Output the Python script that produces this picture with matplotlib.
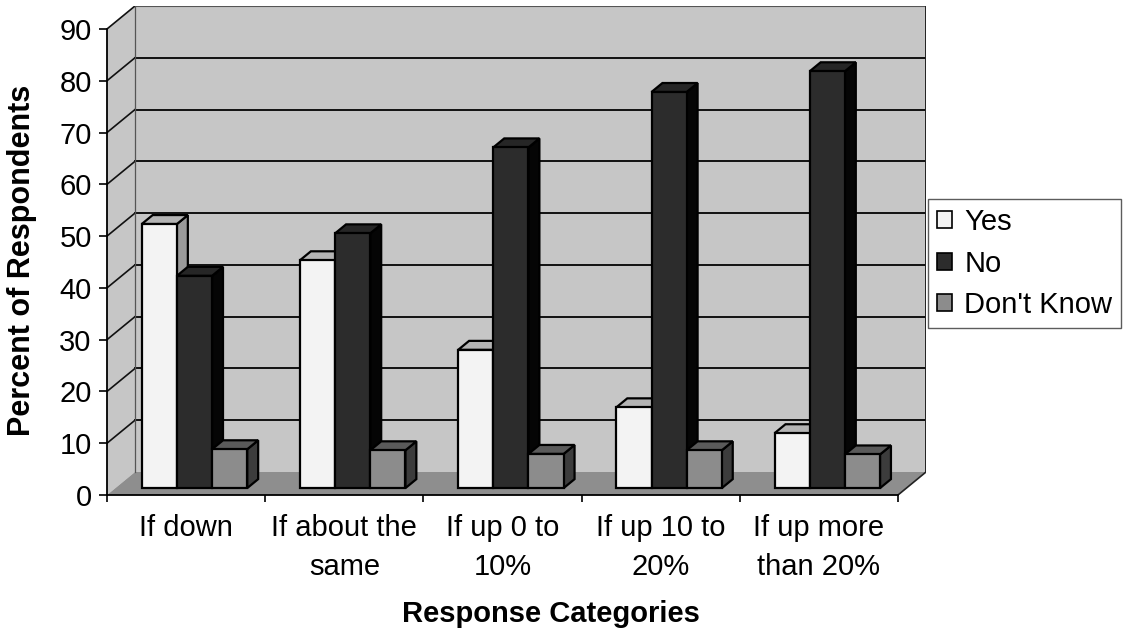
import matplotlib
matplotlib.use("Agg")
import matplotlib.pyplot as plt
from matplotlib.patches import Polygon, Patch

plt.rcParams['font.family'] = ['Liberation Sans', 'DejaVu Sans']

# ---- data -------------------------------------------------------------
categories = ["If down", "If about the\nsame", "If up 0 to\n10%",
              "If up 10 to\n20%", "If up more\nthan 20%"]
series_names = ["Yes", "No", "Don't Know"]
yes_vals = [51, 44, 26.7, 15.6, 10.6]
no_vals = [41, 49.2, 65.8, 76.5, 80.5]
dk_vals = [7.5, 7.3, 6.6, 7.3, 6.5]
y_ticks = [0, 10, 20, 30, 40, 50, 60, 70, 80, 90]

# ---- styling ----------------------------------------------------------
face_cols = ["#f3f3f3", "#2c2c2c", "#8c8c8c"]
top_cols = ["#b4b4b4", "#262626", "#5a5a5a"]
side_cols = ["#9a9a9a", "#050505", "#3c3c3c"]
wall_col = "#c6c6c6"
floor_col = "#8e8e8e"
FS = 21

W, H = 1127, 633
fig = plt.figure(figsize=(W / 100, H / 100), dpi=100)

# plot box (front plane origin + wall depth) in pixels
x0px, y0px, x1px, y1px = 107, 495, 926, 6
ax = fig.add_axes([x0px / W, (H - y0px) / H, (x1px - x0px) / W, (y0px - y1px) / H])
px_per_cat = 158.2
px_per_unit = 5.178
ax.set_xlim(0, (x1px - x0px) / px_per_cat)
ax.set_ylim(0, (y0px - y1px) / px_per_unit)
ax.patch.set_visible(False)

ncat = len(categories)
ymax = 90
dxw = 28 / px_per_cat          # depth of the walls / floor
dyw = 23 / px_per_unit

# walls and floor
ax.add_patch(Polygon([(dxw, dyw), (ncat + dxw, dyw), (ncat + dxw, ymax + dyw), (dxw, ymax + dyw)],
                     closed=True, facecolor=wall_col, edgecolor="none", zorder=0))
ax.add_patch(Polygon([(0, 0), (dxw, dyw), (dxw, ymax + dyw), (0, ymax)],
                     closed=True, facecolor=wall_col, edgecolor="none", zorder=0))
ax.add_patch(Polygon([(0, 0), (ncat, 0), (ncat + dxw, dyw), (dxw, dyw)],
                     closed=True, facecolor=floor_col, edgecolor="none", zorder=0))

# gridlines across the back wall and the left wall
for v in y_ticks[1:]:
    lw = 1.4 if v < ymax else 0.8
    col = "#111111" if v < ymax else "#555555"
    ax.plot([dxw, ncat + dxw], [v + dyw, v + dyw], color=col, lw=lw, zorder=1)
    ax.plot([0, dxw], [v, v + dyw], color="#111111", lw=1.2, zorder=1)
ax.plot([dxw, dxw], [dyw, ymax + dyw], color="#555555", lw=0.9, zorder=1)
ax.plot([ncat + dxw, ncat + dxw], [dyw, ymax + dyw], color="#222222", lw=1.4, zorder=1)
ax.plot([ncat, ncat + dxw], [0, dyw], color="#222222", lw=1.2, zorder=1)

# 3-D columns
bw = 1 / 4.5
f0, fd = 0.30, 0.39
ox, oy = f0 * dxw, f0 * dyw
bdx, bdy = fd * dxw, fd * dyw
all_vals = [yes_vals, no_vals, dk_vals]
z = 2
for c in range(ncat):
    for s, vals in enumerate(all_vals):
        v = vals[c]
        xl = c + 0.75 * bw + s * bw + ox
        xr = xl + bw
        yb, yt = oy, oy + v
        kw = dict(closed=True, edgecolor="black", lw=1.6, joinstyle="miter")
        ax.add_patch(Polygon([(xr, yb), (xr + bdx, yb + bdy), (xr + bdx, yt + bdy), (xr, yt)],
                             facecolor=side_cols[s], zorder=z, **kw))
        ax.add_patch(Polygon([(xl, yt), (xr, yt), (xr + bdx, yt + bdy), (xl + bdx, yt + bdy)],
                             facecolor=top_cols[s], zorder=z, **kw))
        ax.add_patch(Polygon([(xl, yb), (xr, yb), (xr, yt), (xl, yt)],
                             facecolor=face_cols[s], zorder=z, **kw))
        z += 1

# axes lines, ticks, labels
for side in ("top", "right"):
    ax.spines[side].set_visible(False)
ax.spines["left"].set_bounds(0, ymax)
ax.spines["bottom"].set_bounds(0, ncat)
for side in ("left", "bottom"):
    ax.spines[side].set_linewidth(1.3)
    ax.spines[side].set_zorder(50)
ax.set_yticks(y_ticks)
ax.set_yticklabels([str(t) for t in y_ticks], fontsize=FS)
ax.tick_params(axis="y", direction="out", length=6, width=1.2, pad=5)
ax.set_xticks(range(ncat + 1))
ax.set_xticklabels([])
ax.tick_params(axis="x", which="major", direction="out", length=5, width=1.2)
ax.set_xticks([c + 0.5 for c in range(ncat)], minor=True)
ax.set_xticklabels(categories, minor=True, fontsize=FS, linespacing=1.5)
ax.tick_params(axis="x", which="minor", length=0, pad=14)

fig.text(551 / W, 1 - 614 / H, "Response Categories", fontsize=FS,
         fontweight="bold", ha="center", va="center")
fig.text(22 / W, 1 - 260 / H, "Percent of Respondents", fontsize=FS + 1,
         fontweight="bold", ha="center", va="center", rotation=90)

handles = [Patch(facecolor=face_cols[i], edgecolor="black", lw=1.2, label=series_names[i])
           for i in range(3)]
leg = fig.legend(handles=handles, loc="center left",
                 bbox_to_anchor=(928 / W, 1 - 263.5 / H), fontsize=FS,
                 frameon=True, fancybox=False, edgecolor="#333333",
                 handlelength=0.52, handleheight=0.52, handletextpad=0.42,
                 labelspacing=0.47, borderpad=0.3, borderaxespad=0)
leg.get_frame().set_linewidth(1.0)

fig.savefig("out.png", dpi=100)
